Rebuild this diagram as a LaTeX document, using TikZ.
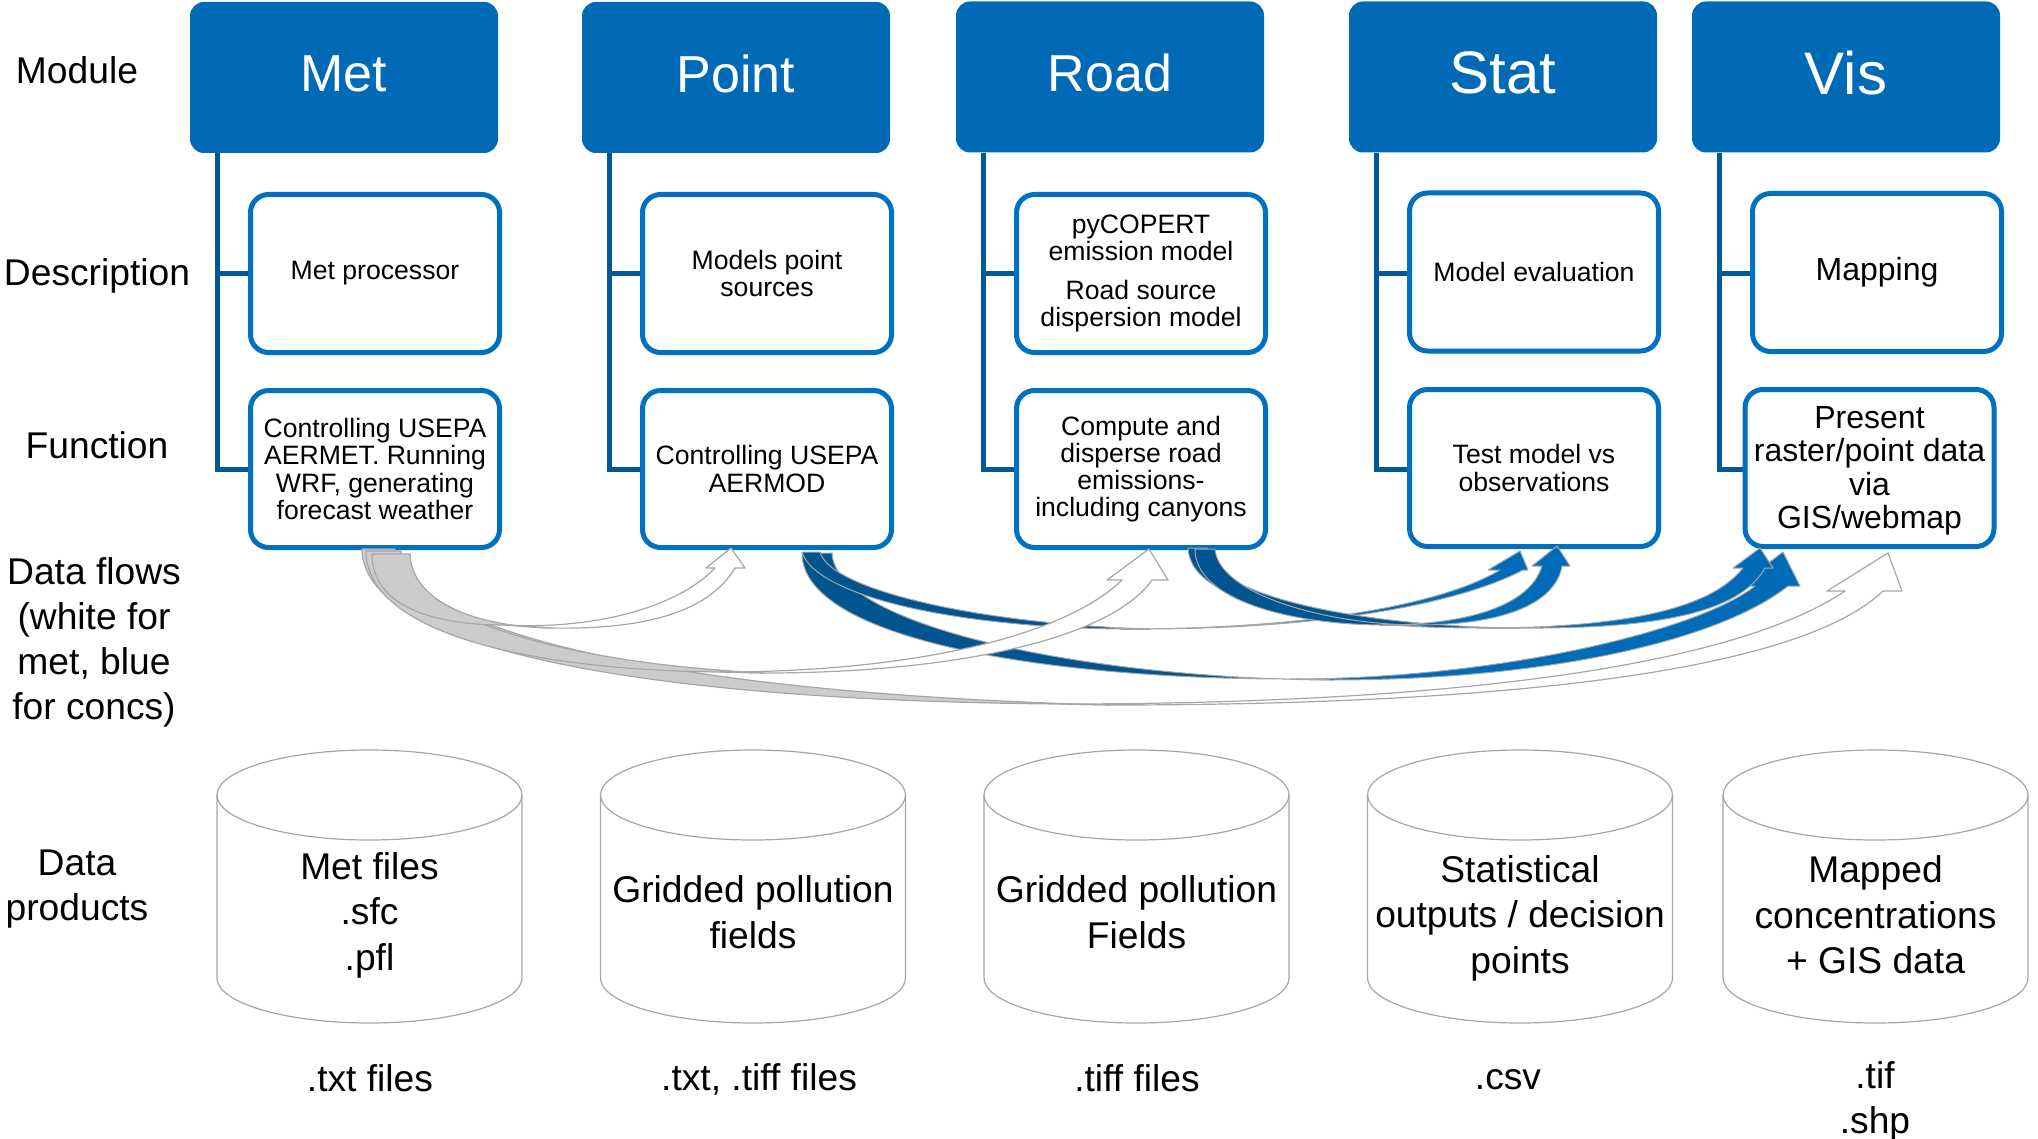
\documentclass[tikz,border=0pt]{standalone}
\usepackage{fontspec}
\setmainfont{Liberation Sans}
\definecolor{modblue}{RGB}{0,106,182}
\definecolor{boxblue}{RGB}{0,112,192}
\definecolor{connblue}{RGB}{0,88,152}
\definecolor{backblue}{RGB}{0,85,145}
\definecolor{frontblue}{RGB}{0,107,182}
\definecolor{outl}{RGB}{166,166,166}
\definecolor{backgray}{RGB}{204,204,204}
\begin{document}
\begin{tikzpicture}[x=0.5pt,y=-0.5pt,
  modbox/.style={rectangle, rounded corners=7pt, fill=modblue, draw=none, text=white,
    minimum width=154pt, minimum height=75.5pt, inner sep=0pt,
    font=\fontsize{26pt}{30pt}\selectfont},
  bigmod/.style={modbox, font=\fontsize{30pt}{34pt}\selectfont},
  modtext/.style={text=white, inner sep=0pt, font=\fontsize{26pt}{30pt}\selectfont},
  bigtext/.style={modtext, font=\fontsize{30pt}{34pt}\selectfont},
  descbox/.style={rectangle, rounded corners=9pt, draw=boxblue, line width=2.5pt, fill=white,
    minimum width=124.5pt, minimum height=79pt, inner sep=0pt, align=center,
    font=\fontsize{13.3pt}{13.6pt}\selectfont},
  funbox/.style={descbox, minimum height=78.5pt},
  visfont/.style={font=\fontsize{16pt}{16.7pt}\selectfont},
  conn/.style={draw=connblue, line width=2.5pt},
  lab/.style={align=center, inner sep=0pt, font=\fontsize{18.6pt}{22.5pt}\selectfont},
  cyl/.style={draw=outl, line width=0.6pt, fill=white},
  cyltext/.style={align=center, inner sep=0pt, font=\fontsize{18.6pt}{22.75pt}\selectfont},
  wback/.style={fill=backgray, draw=outl, line width=0.6pt, line join=round},
  wfront/.style={fill=white, draw=outl, line width=0.6pt, line join=round},
  bback/.style={fill=backblue, draw=outl, line width=0.5pt, line join=round},
  bfront/.style={fill=frontblue, draw=outl, line width=0.5pt, line join=round}
]
\useasboundingbox (0,0) rectangle (2038,1139);

% ---------- modules ----------
\node[modbox] (metmod) at (344,77.5) {};
\node[modbox] (pointmod) at (736,77.5) {};
\node[modbox] (roadmod) at (1110,77) {};
\node[bigmod] (statmod) at (1503,77) {};
\node[bigmod] (vismod) at (1846,77) {};
\node[modtext] (mett) at ([yshift=1.8pt]metmod.center) {Met};
\node[modtext] (pointt) at ([yshift=1.8pt]pointmod.center) {Point};
\node[modtext] (roadt) at ([yshift=1.8pt]roadmod.center) {Road};
\node[bigtext] (statt) at ([yshift=2pt]statmod.center) {Stat};
\node[bigtext] (vist) at ([yshift=2pt]vismod.center) {Vis};

% ---------- connectors ----------
\draw[conn] ([xshift=14pt]metmod.south west) |- (375,273.5);
\draw[conn] ([xshift=14pt]metmod.south west) |- (375,469);
\draw[conn] ([xshift=14pt]pointmod.south west) |- (767,273.5);
\draw[conn] ([xshift=14pt]pointmod.south west) |- (767,469);
\draw[conn] ([xshift=14pt]roadmod.south west) |- (1141,273.5);
\draw[conn] ([xshift=14pt]roadmod.south west) |- (1141,469);
\draw[conn] ([xshift=14pt]statmod.south west) |- (1534,273.5);
\draw[conn] ([xshift=14pt]statmod.south west) |- (1534,469);
\draw[conn] ([xshift=14pt]vismod.south west) |- (1877,273.5);
\draw[conn] ([xshift=14pt]vismod.south west) |- (1869.5,469);

% ---------- description / function boxes ----------
\node[descbox] (metdesc) at (375,273.5) {Met processor};
\node[funbox] (metfun) at (375,469) {Controlling USEPA\\AERMET. Running\\WRF, generating\\forecast weather};
\node[descbox] (pointdesc) at (767,273.5) {Models point\\sources};
\node[funbox] (pointfun) at (767,469) {Controlling USEPA\\AERMOD};
\node[descbox] (roaddesc) at (1141,273.5) {pyCOPERT\\emission model\\[5.5pt]Road source\\dispersion model};
\node[funbox] (roadfun) at (1141,469) {Compute and\\disperse road\\emissions-\\including canyons};
\node[descbox] (statdesc) at (1534,272) {Model evaluation};
\node[funbox] (statfun) at (1534,468) {Test model vs\\observations};
\node[descbox, visfont] (visdesc) at (1877,272.5) {Mapping};
\node[funbox, visfont] (visfun) at (1869.5,468) {};
\node[align=center, inner sep=0pt, visfont] (visfunt) at ([yshift=-1.5pt]visfun.center) {Present\\raster/point data\\via\\GIS/webmap};

% ---------- blue (concentration) arrows ----------
% Point -> Vis (thick)
\path[bback] (802,553) .. controls (802,640) and (1050,679) .. (1290,679) -- (1330,680)
  .. controls (1080,678) and (835,625) .. (832,553) -- cycle;
\path[bfront] (1290,679) .. controls (1500,679) and (1700,630) .. (1755,586) -- (1738,586)
  -- (1783,552) -- (1800,586) -- (1788,586) .. controls (1720,640) and (1550,680) .. (1330,680) -- cycle;
% Point -> Stat
\path[bback] (802,552) .. controls (815,595) and (950,627) .. (1120,629) -- (1150,629)
  .. controls (980,624) and (830,590) .. (820,552) -- cycle;
\path[bfront] (1120,629) .. controls (1330,629) and (1450,600) .. (1500,570) -- (1488,570)
  -- (1520,551) -- (1528,570) -- (1523,570) .. controls (1470,598) and (1350,628) .. (1150,629) -- cycle;
% Road -> Vis
\path[bback] (1188,548) .. controls (1190,610) and (1350,628) .. (1480,628) -- (1520,628)
  .. controls (1380,627) and (1210,600) .. (1207,548) -- cycle;
\path[bfront] (1480,628) .. controls (1620,628) and (1710,610) .. (1743,568) -- (1733,568)
  -- (1760,548) -- (1773,568) -- (1765,568) .. controls (1740,612) and (1660,629) .. (1520,628) -- cycle;
% Road -> Stat
\path[bback] (1195,549) .. controls (1195,600) and (1290,624) .. (1380,625) -- (1410,625)
  .. controls (1310,622) and (1218,590) .. (1215,549) -- cycle;
\path[bfront] (1380,625) .. controls (1470,625) and (1530,605) .. (1542,566) -- (1532,566)
  -- (1557,546) -- (1570,566) -- (1562,566) .. controls (1555,605) and (1500,626) .. (1410,625) -- cycle;

% ---------- white (met) arrows ----------
% Met -> Vis
\path[wback] (362,549) .. controls (362,640) and (600,700) .. (1060,704) -- (1110,705)
  .. controls (620,692) and (400,620) .. (395,549) -- cycle;
\path[wfront] (1060,704) .. controls (1400,704) and (1720,675) .. (1845,591) -- (1827,591)
  -- (1888,553) -- (1902,591) -- (1883,591) .. controls (1790,680) and (1450,705) .. (1110,705) -- cycle;
% Met -> Road
\path[wback] (366,551) .. controls (366,630) and (520,670) .. (720,672) -- (765,673)
  .. controls (540,662) and (403,610) .. (401,551) -- cycle;
\path[wfront] (720,672) .. controls (900,672) and (1060,640) .. (1122,580) -- (1107,580)
  -- (1149,549) -- (1168,580) -- (1152,580) .. controls (1110,640) and (950,673) .. (765,673) -- cycle;
% Met -> Point
\path[wback] (372,554) .. controls (372,605) and (430,625) .. (505,625) -- (550,628)
  .. controls (470,626) and (412,600) .. (410,554) -- cycle;
\path[wfront] (505,625) .. controls (600,630) and (680,605) .. (715,568) -- (706,568)
  -- (731,548) -- (745,568) -- (735,568) .. controls (710,610) and (650,630) .. (550,628) -- cycle;

% ---------- cylinders ----------
\foreach \cx in {369.5,753,1136.5,1520,1875.5}{
  \draw[cyl] (\cx-152.5,795) -- (\cx-152.5,978)
    arc[start angle=180, end angle=360, x radius=76.25pt, y radius=22.5pt]
    -- (\cx+152.5,795)
    arc[start angle=0, end angle=180, x radius=76.25pt, y radius=22.5pt] -- cycle;
  \draw[cyl, fill=none] (\cx-152.5,795)
    arc[start angle=180, end angle=360, x radius=76.25pt, y radius=22.5pt];
}
\node[cyltext] (metcyl) at (369.5,915) {Met files\\.sfc\\.pfl};
\node[cyltext] (pointcyl) at (753,912) {Gridded pollution\\fields};
\node[cyltext] (roadcyl) at (1136.5,912) {Gridded pollution\\Fields};
\node[cyltext] (statcyl) at (1520,918) {Statistical\\outputs / decision\\points};
\node[cyltext] (viscyl) at (1875.5,915) {Mapped\\concentrations\\+ GIS data};

% ---------- file types ----------
\node[lab] (metft) at (370,1078) {.txt files};
\node[lab] (pointft) at (759,1079) {.txt, .tiff files};
\node[lab] (roadft) at (1137,1078) {.tiff files};
\node[lab] (statft) at (1508,1080) {.csv};
\node[lab] (visft) at (1875,1101) {.tif\\.shp};

% ---------- row labels ----------
\node[lab] (lmod) at (77,70) {Module};
\node[lab] (ldesc) at (97,276) {Description};
\node[lab] (lfun) at (97,445) {Function};
\node[lab] (lflow) at (94,642) {Data flows\\(white for\\met, blue\\for concs)};
\node[lab] (lprod) at (77,889) {Data\\products};
\end{tikzpicture}
\end{document}
